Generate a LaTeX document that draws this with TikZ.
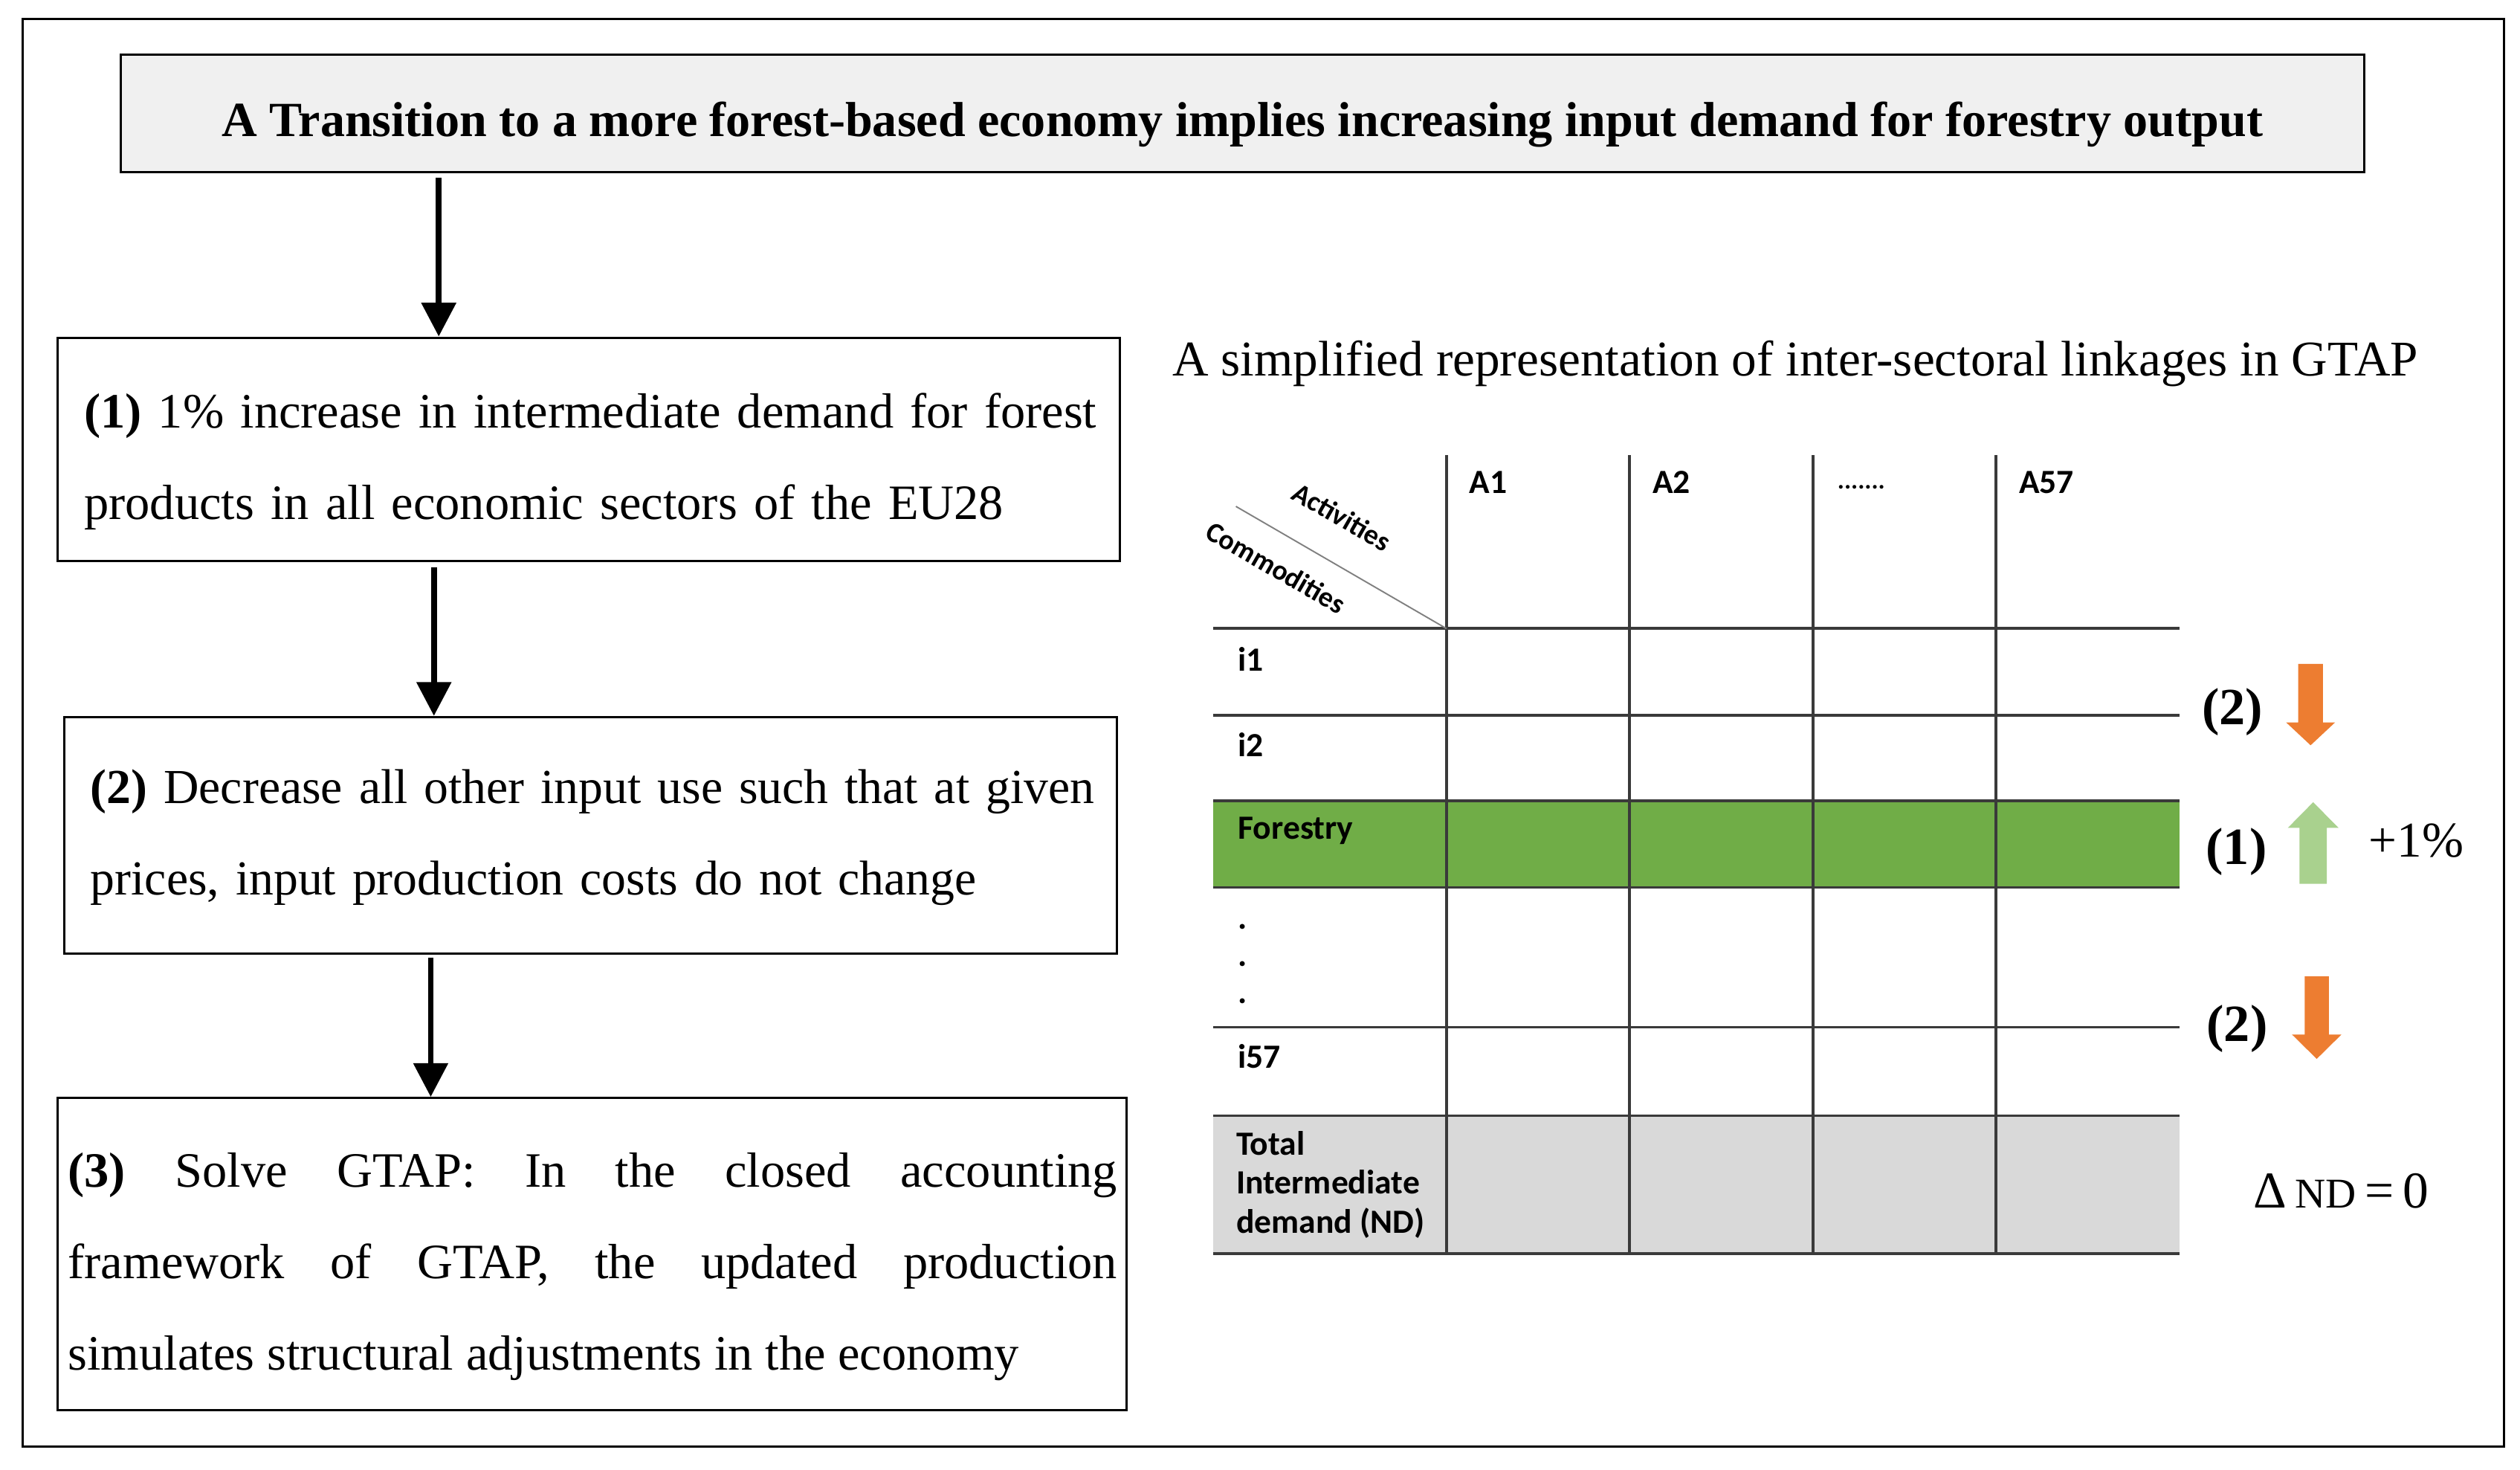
\documentclass[tikz,border=0pt]{standalone}
\usepackage{fontspec}
\setmainfont{Liberation Serif}
\newfontfamily\tabfont{Carlito}
\usetikzlibrary{arrows.meta}
\definecolor{titlefill}{HTML}{F0F0F0}
\definecolor{bandgreen}{HTML}{70AD47}
\definecolor{upgreen}{HTML}{A9D18E}
\definecolor{downorange}{HTML}{ED7D31}
\definecolor{totgray}{HTML}{D9D9D9}
\definecolor{gridline}{HTML}{3A3A3A}
\tikzset{
  framebox/.style={draw=black, line width=0.8pt},
  titlebox/.style={draw=black, line width=0.8pt, fill=titlefill, inner sep=0pt,
    font=\fontsize{17.4}{20}\selectfont\bfseries},
  stepbox/.style={draw=black, line width=0.8pt, fill=white, inner sep=0pt},
  steptext/.style={anchor=west, align=left, inner sep=0pt,
    font=\fontsize{17.5}{32.4}\selectfont},
  flowarr/.style={line width=2pt, -{Triangle[width=0.42cm,length=0.42cm]}},
  tabline/.style={draw=gridline, line width=1pt},
  diagline/.style={draw=gray, line width=0.5pt},
  tablabel/.style={font=\tabfont\bfseries\fontsize{12}{13.7}\selectfont, inner sep=0pt, anchor=west, align=left},
  diaglabel/.style={font=\tabfont\bfseries\fontsize{10}{12}\selectfont, inner sep=0pt, rotate=-30},
  sidelabel/.style={font=\fontsize{18.5}{20}\selectfont\bfseries, inner sep=0pt},
  plainlabel/.style={font=\fontsize{17.7}{20}\selectfont, inner sep=0pt}
}
\begin{document}
\begin{tikzpicture}[x=0.02cm, y=-0.02cm]
\useasboundingbox (0,0) rectangle (1568,914);
\fill[white] (0,0) rectangle (1568,914);
\draw[framebox] (14,12) rectangle (1558,900);

% left flow
\node[titlebox, minimum width=27.92cm, text height=1.02cm, text depth=0.44cm] (title) at (773,70.5)
  {A Transition to a more forest-based economy implies increasing input demand for forestry output};
\node[stepbox, minimum width=13.22cm, minimum height=2.78cm] (box1) at (366.5,279.5) {};
\node[stepbox, minimum width=13.1cm, minimum height=2.94cm] (box2) at (367.5,519.5) {};
\node[stepbox, minimum width=13.3cm, minimum height=3.88cm] (box3) at (368.5,780) {};
\node[steptext, text width=13cm] (t1) at (52,287)
  {\textbf{(1)} 1\% increase in intermediate demand for forest\\products in all economic sectors of the EU28};
\node[steptext, text width=13cm, font=\fontsize{17.3}{32.4}\selectfont] (t2) at (56,521)
  {\textbf{(2)} Decrease all other input use such that at given\\prices, input production costs do not change};
\node[steptext, align=justify, text width=13.06cm] (t3) at (42,788)
  {\textbf{(3)} Solve GTAP: In the closed accounting\linebreak framework of GTAP, the updated production\linebreak simulates structural adjustments in the economy};

\coordinate (c1) at (273,0);
\coordinate (c2) at (270,0);
\coordinate (c3) at (268,0);
\draw[flowarr, shorten <=0.06cm] (title.south -| c1) -- (box1.north -| c1);
\draw[flowarr, shorten <=0.06cm] (box1.south -| c2) -- (box2.north -| c2);
\draw[flowarr, shorten <=0.04cm] (box2.south -| c3) -- (box3.north -| c3);

% right: table
\node[plainlabel] (tabtitle) at (1117,226) {A simplified representation of inter-sectoral linkages in GTAP};

\fill[bandgreen] (755,498) rectangle (1356,552);
\fill[totgray] (755,694) rectangle (1356,780);
\foreach \yy in {391,445,498,552,639,694,780}
  \draw[tabline] (755,\yy) -- (1356,\yy);
\foreach \xx in {900,1014,1128,1242}
  \draw[tabline] (\xx,283) -- (\xx,780);
\draw[diagline] (769,315) -- (900,391);

\node[diaglabel] (act) at (835,321.5) {Activities};
\node[diaglabel] (com) at (794,353) {Commodities};

\node[tablabel] (a1) at (914,300) {A1};
\node[tablabel] (a2) at (1028,300) {A2};
\node[tablabel, font=\tabfont\bfseries\fontsize{9}{10}\selectfont] (adots) at (1143,303) {.......};
\node[tablabel] (a57) at (1256,300) {A57};

\node[tablabel] (i1) at (770,410) {i1};
\node[tablabel] (i2) at (770,463) {i2};
\node[tablabel] (forestry) at (770,517) {Forestry};
\node[tablabel, anchor=base west] (d1) at (770,578) {.};
\node[tablabel, anchor=base west] (d2) at (770,601) {.};
\node[tablabel, anchor=base west] (d3) at (770,624) {.};
\node[tablabel] (i57) at (770,657) {i57};
\node[tablabel] (tot) at (769,737) {Total\\Intermediate\\demand (ND)};

% right side markers
\node[sidelabel] (m2a) at (1389,443) {(2)};
\fill[downorange] (1430,413) -- (1445.4,413) -- (1445.4,449.4) -- (1452.9,449.4) -- (1437.7,463.6)
  -- (1422.5,449.4) -- (1430,449.4) -- cycle;
\node[sidelabel] (m1) at (1391.5,530) {(1)};
\fill[upgreen] (1430.8,549.8) -- (1447.8,549.8) -- (1447.8,515) -- (1455.1,515) -- (1439.3,499)
  -- (1423.5,515) -- (1430.8,515) -- cycle;
\node[plainlabel] (plus) at (1503.5,523) {+1\%};
\node[sidelabel] (m2b) at (1392,640) {(2)};
\fill[downorange] (1434,607.4) -- (1449,607.4) -- (1449,643.6) -- (1456.8,643.6) -- (1441.5,658.7)
  -- (1426.2,643.6) -- (1434,643.6) -- cycle;
\node[plainlabel, font=\fontsize{18.3}{20}\selectfont] (dnd) at (1456.5,741) {Δ\,{\fontsize{15}{16}\selectfont ND}\,=\,0};
\end{tikzpicture}
\end{document}
